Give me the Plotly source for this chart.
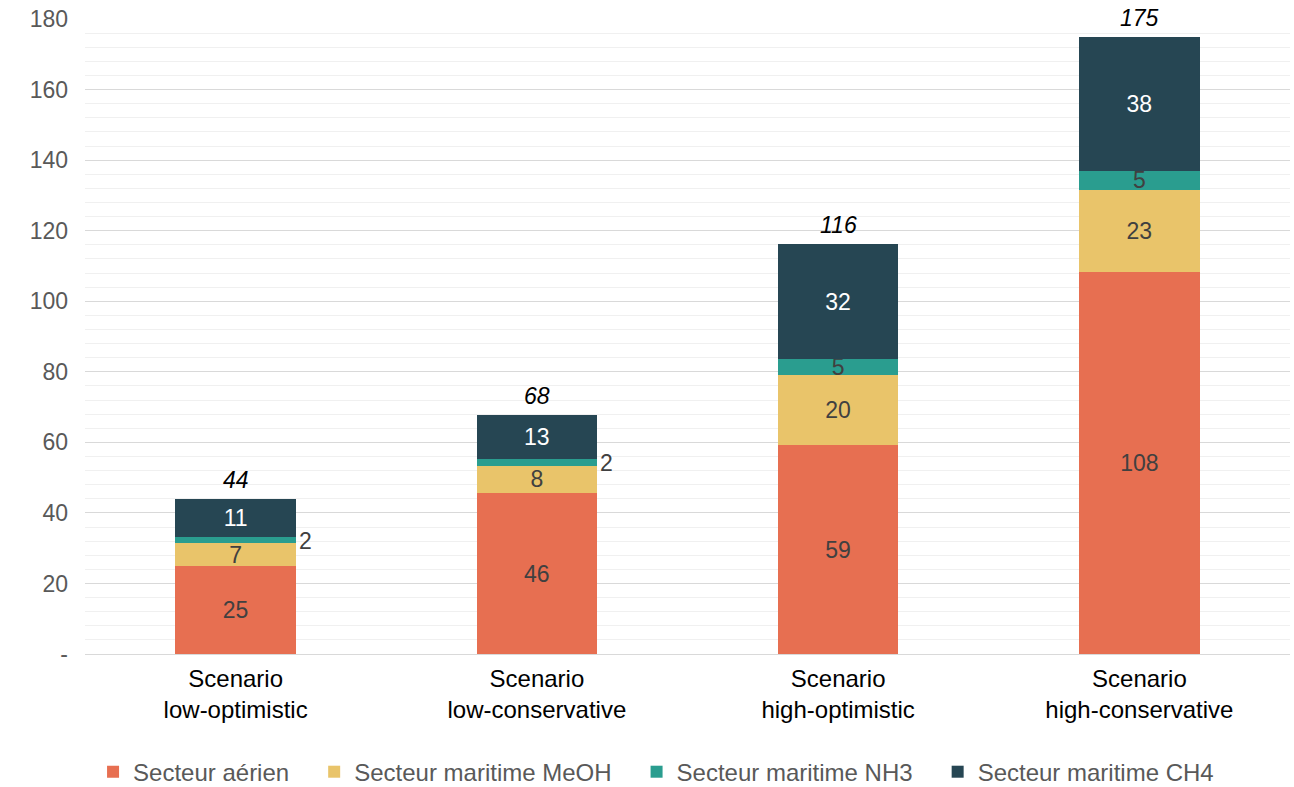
import plotly.graph_objects as go

categories = ["Scenario<br>low-optimistic", "Scenario<br>low-conservative",
              "Scenario<br>high-optimistic", "Scenario<br>high-conservative"]
series_names = ["Secteur aérien", "Secteur maritime MeOH", "Secteur maritime NH3", "Secteur maritime CH4"]
aerien = [24.9, 45.6, 59.2, 108.4]
meoh = [6.6, 7.8, 19.9, 23.2]
nh3 = [1.7, 1.8, 4.6, 5.3]
ch4 = [10.7, 12.6, 32.4, 37.9]
colors = ["#E76F51", "#E9C46A", "#2A9D8F", "#264653"]
text_colors = ["#404040", "#404040", "#404040", "#FFFFFF"]
y_tickvals = [0, 20, 40, 60, 80, 100, 120, 140, 160, 180]
y_ticktext = ["-", "20", "40", "60", "80", "100", "120", "140", "160", "180"]
outside_nh3 = [True, True, False, False]

FONT = "Arial, Liberation Sans, sans-serif"
series = [aerien, meoh, nh3, ch4]
totals = [sum(v) for v in zip(*series)]
PAD = "\u00a0" * 3

fig = go.Figure()
for i, (name, vals) in enumerate(zip(series_names, series)):
    if i == 2:
        texts = ["" if o else f"{v:.0f}" for v, o in zip(vals, outside_nh3)]
    else:
        texts = [f"{v:.0f}" for v in vals]
    legend_name = name + (PAD if i < len(series_names) - 1 else "")
    fig.add_trace(go.Bar(
        x=categories, y=vals, name=legend_name, marker_color=colors[i],
        marker_line_width=0,
        text=texts, textposition="inside", insidetextanchor="middle",
        textangle=0, constraintext="none", cliponaxis=False,
        textfont=dict(size=23, color=text_colors[i], family=FONT),
        hoverinfo="skip",
    ))

annotations = []
for j, cat in enumerate(categories):
    annotations.append(dict(
        x=cat, y=totals[j], text=f"<i>{totals[j]:.0f}</i>", showarrow=False,
        yanchor="bottom", yshift=4, font=dict(size=23, color="#000000", family=FONT)))
    if outside_nh3[j]:
        mid = aerien[j] + meoh[j] + nh3[j] / 2
        annotations.append(dict(
            x=cat, y=mid, text=f"{nh3[j]:.0f}", showarrow=False,
            xanchor="left", yanchor="middle", xshift=61, yshift=-1,
            font=dict(size=23, color="#404040", family=FONT)))

fig.update_layout(
    width=1294, height=787,
    barmode="stack", bargap=0.6,
    plot_bgcolor="white", paper_bgcolor="white",
    margin=dict(l=85, r=4, t=19, b=133, autoexpand=False),
    font=dict(family=FONT, size=23, color="#595959"),
    annotations=annotations,
    legend=dict(orientation="h", x=0.507, xanchor="center", xref="container",
                y=-0.186, yanchor="middle", yref="paper",
                font=dict(size=24, color="#595959", family=FONT),
                itemwidth=30, traceorder="normal"),
    xaxis=dict(showgrid=False, showline=True, linecolor="#d9d9d9", linewidth=1,
               ticks="", ticklabelstandoff=3,
               tickfont=dict(size=24, color="#000000", family=FONT)),
    yaxis=dict(range=[0, 180], tickvals=y_tickvals, ticktext=y_ticktext,
               showgrid=True, gridcolor="#d9d9d9", gridwidth=1,
               zeroline=False, showline=False, ticks="", ticklabelstandoff=16,
               tickfont=dict(size=23, color="#595959", family=FONT),
               minor=dict(dtick=4, tick0=0, showgrid=True, gridcolor="#f0f0f0", gridwidth=1)),
)

fig.write_html("out.html")
